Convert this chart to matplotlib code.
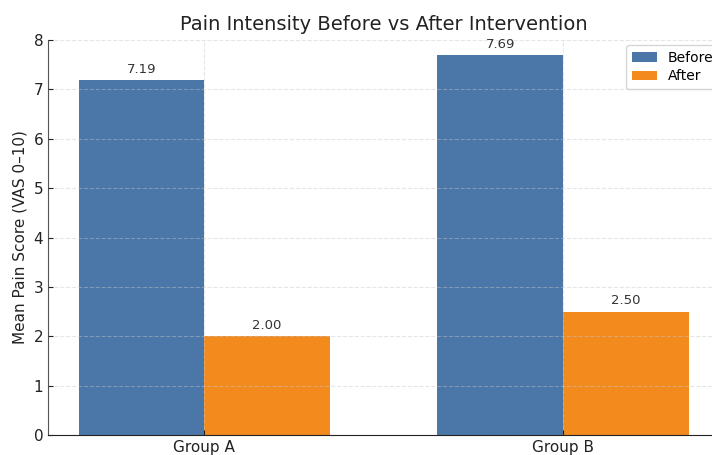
import matplotlib
matplotlib.use("Agg")
import matplotlib.pyplot as plt
import numpy as np

groups = ["Group A", "Group B"]
before = [7.19, 7.69]
after = [2.00, 2.50]
series_names = ["Before", "After"]
y_ticks = [0, 1, 2, 3, 4, 5, 6, 7, 8]

W, H = 712, 455
fig = plt.figure(figsize=(W / 100, H / 100), dpi=100)
ax = fig.add_axes([48 / W, 20 / H, 671 / W, 395 / H])

x = np.arange(len(groups))
width = 0.35
b1 = ax.bar(x - width / 2, before, width, color="#4a76a8", label=series_names[0])
b2 = ax.bar(x + width / 2, after, width, color="#f28a1e", label=series_names[1])

for bars in (b1, b2):
    for rect in bars:
        h = rect.get_height()
        ax.annotate(f"{h:.2f}", xy=(rect.get_x() + rect.get_width() / 2, h),
                    xytext=(0, 3), textcoords="offset points",
                    ha="center", va="bottom", fontsize=9.5, color="#333333")

ax.set_ylim(0, 8)
ax.set_yticks(y_ticks)
ax.set_xticks(x)
ax.set_xticklabels(groups)
ax.set_ylabel("Mean Pain Score (VAS 0\u201310)", fontsize=11, color="#222222")
ax.set_title("Pain Intensity Before vs After Intervention", fontsize=14,
             color="#222222", pad=7)
ax.tick_params(axis="both", direction="in", labelsize=11, colors="#222222")

ax.grid(True, linestyle="--", linewidth=0.8, color="#c8c8c8", alpha=0.45)
ax.set_axisbelow(False)

for side in ("top", "right"):
    ax.spines[side].set_visible(False)
ax.spines["left"].set_color("#555555")
ax.spines["bottom"].set_color("#222222")

ax.legend(loc="upper left", bbox_to_anchor=(626 / W, 1 - 45 / H),
          bbox_transform=fig.transFigure, borderaxespad=0,
          fontsize=10, handlelength=1.8, labelspacing=0.35, frameon=True)

fig.savefig("out.png", dpi=100)
